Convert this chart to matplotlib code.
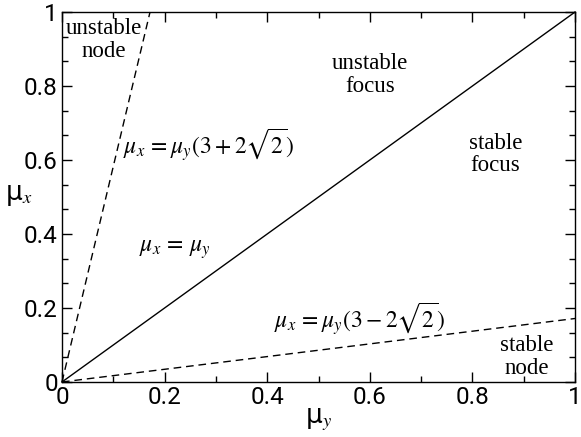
import matplotlib
matplotlib.use("Agg")
import matplotlib.pyplot as plt
from matplotlib.ticker import MultipleLocator

plt.rcParams["mathtext.fontset"] = "stix"

# boundary lines: start at origin, end points
line_y_end = [0.1716, 1.0, 1.0]      # mu_y at the end of each line
line_x_end = [1.0, 1.0, 0.1716]      # mu_x at the end of each line
line_styles = ["--", "-", "--"]

region_labels = ["unstable\nnode", "unstable\nfocus", "stable\nfocus", "stable\nnode"]
region_pos = [(0.082, 0.925), (0.60, 0.83), (0.845, 0.615), (0.905, 0.068)]

eq_labels = [r"$\mu_x\, =\mu_y(3+2\sqrt{2})$", r"$\mu_x\, =\, \mu_y$",
             r"$\mu_x\, =\mu_y(3-2\sqrt{2})$"]
eq_pos = [(0.285, 0.64), (0.22, 0.36), (0.58, 0.17)]

ticks = [0, 0.2, 0.4, 0.6, 0.8, 1]
tick_labels = ["0", "0.2", "0.4", "0.6", "0.8", "1"]

fig = plt.figure(figsize=(5.81, 4.37), dpi=100)
ax = fig.add_axes([0.1067, 0.1259, 0.883, 0.8466])

for ye, xe, ls in zip(line_y_end, line_x_end, line_styles):
    ax.plot([0, ye], [0, xe], color="black", linestyle=ls,
            linewidth=1.0, dashes=(5.5, 3.5) if ls == "--" else (None, None),
            clip_on=False)

for txt, (x, y) in zip(region_labels, region_pos):
    ax.text(x, y, txt, ha="center", va="center", fontsize=16.5,
            family="Liberation Serif", linespacing=1.1)

for txt, (x, y) in zip(eq_labels, eq_pos):
    ax.text(x, y, txt, ha="center", va="center", fontsize=17)

ax.set_xlim(0, 1)
ax.set_ylim(0, 1)
ax.set_xticks(ticks)
ax.set_yticks(ticks)
ax.set_xticklabels(tick_labels, family="Roboto", fontsize=17.5)
ax.set_yticklabels(tick_labels, family="Roboto", fontsize=17.5)
ax.xaxis.set_minor_locator(MultipleLocator(0.1))
ax.yaxis.set_minor_locator(MultipleLocator(0.2 / 3))
ax.tick_params(which="both", direction="in", top=True, right=True, width=1.0)
ax.tick_params(which="major", length=7, pad=3)
ax.tick_params(which="minor", length=4)
for s in ax.spines.values():
    s.set_linewidth(1.0)

ax.set_xlabel(r"μ$_y$", fontsize=19, family="DejaVu Sans", labelpad=-2)
ax.set_ylabel(r"μ$_x$", fontsize=19, family="DejaVu Sans", rotation=0, labelpad=2)
ax.yaxis.set_label_coords(-0.085, 0.47)

fig.savefig("out.png", dpi=100)
